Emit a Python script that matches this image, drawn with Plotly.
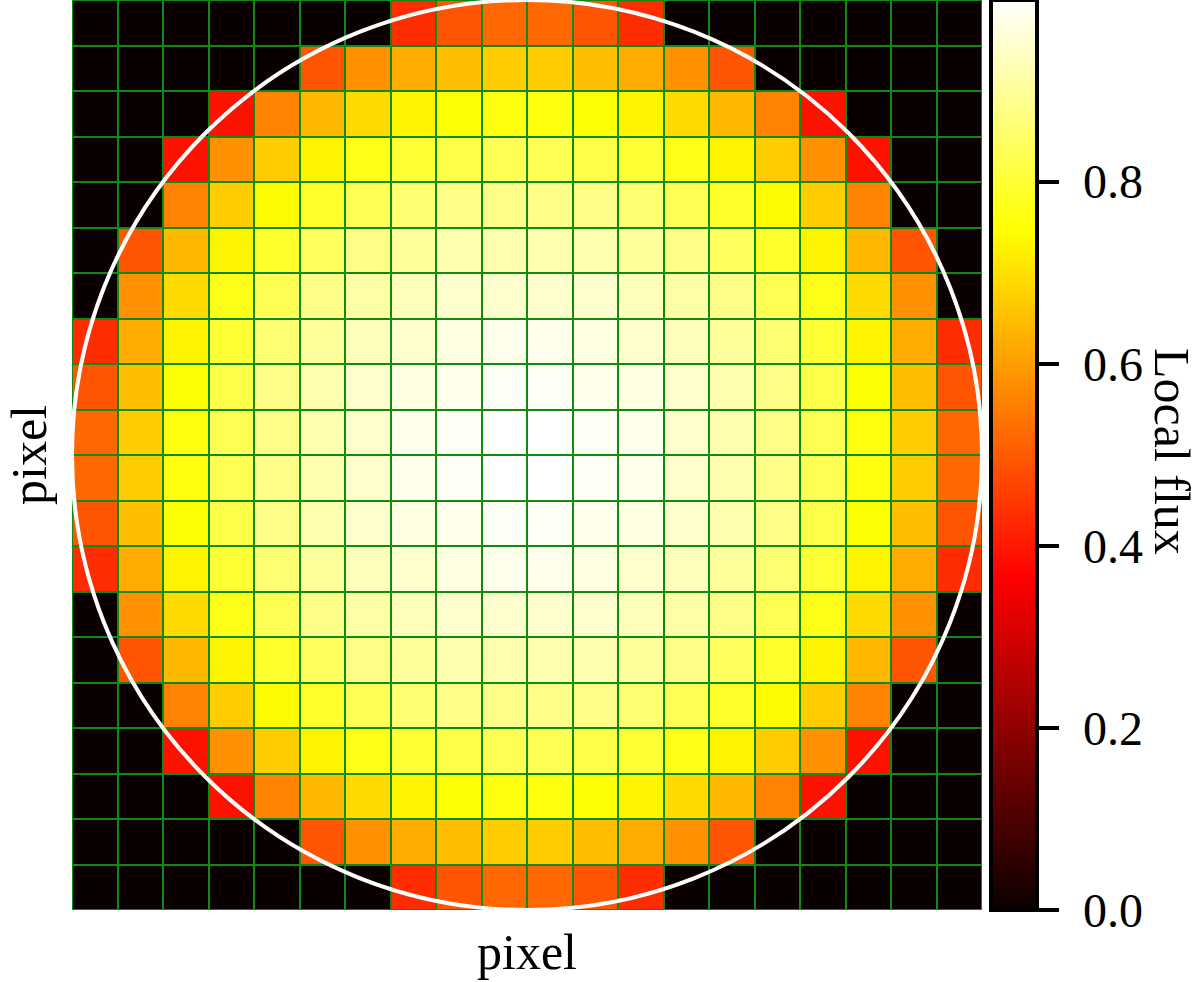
import plotly.graph_objects as go

# Local flux per pixel (row 0 = top of image)
flux = [
    [0, 0, 0, 0, 0, 0, 0, 0.43, 0.49, 0.52, 0.52, 0.49, 0.43, 0, 0, 0, 0, 0, 0, 0],
    [0, 0, 0, 0, 0, 0.49, 0.58, 0.62, 0.65, 0.67, 0.67, 0.65, 0.62, 0.58, 0.49, 0, 0, 0, 0, 0],
    [0, 0, 0, 0.39, 0.56, 0.64, 0.69, 0.73, 0.75, 0.76, 0.76, 0.75, 0.73, 0.69, 0.64, 0.56, 0.39, 0, 0, 0],
    [0, 0, 0.39, 0.58, 0.67, 0.73, 0.77, 0.80, 0.82, 0.83, 0.83, 0.82, 0.80, 0.77, 0.73, 0.67, 0.58, 0.39, 0, 0],
    [0, 0, 0.56, 0.67, 0.74, 0.79, 0.83, 0.86, 0.88, 0.88, 0.88, 0.88, 0.86, 0.83, 0.79, 0.74, 0.67, 0.56, 0, 0],
    [0, 0.49, 0.64, 0.73, 0.79, 0.84, 0.88, 0.90, 0.92, 0.92, 0.92, 0.92, 0.90, 0.88, 0.84, 0.79, 0.73, 0.64, 0.49, 0],
    [0, 0.58, 0.69, 0.77, 0.83, 0.88, 0.91, 0.93, 0.95, 0.95, 0.95, 0.95, 0.93, 0.91, 0.88, 0.83, 0.77, 0.69, 0.58, 0],
    [0.43, 0.62, 0.73, 0.80, 0.86, 0.90, 0.93, 0.95, 0.97, 0.98, 0.98, 0.97, 0.95, 0.93, 0.90, 0.86, 0.80, 0.73, 0.62, 0.43],
    [0.49, 0.65, 0.75, 0.82, 0.88, 0.92, 0.95, 0.97, 0.98, 0.99, 0.99, 0.98, 0.97, 0.95, 0.92, 0.88, 0.82, 0.75, 0.65, 0.49],
    [0.52, 0.67, 0.76, 0.83, 0.88, 0.92, 0.95, 0.98, 0.99, 1.00, 1.00, 0.99, 0.98, 0.95, 0.92, 0.88, 0.83, 0.76, 0.67, 0.52],
    [0.52, 0.67, 0.76, 0.83, 0.88, 0.92, 0.95, 0.98, 0.99, 1.00, 1.00, 0.99, 0.98, 0.95, 0.92, 0.88, 0.83, 0.76, 0.67, 0.52],
    [0.49, 0.65, 0.75, 0.82, 0.88, 0.92, 0.95, 0.97, 0.98, 0.99, 0.99, 0.98, 0.97, 0.95, 0.92, 0.88, 0.82, 0.75, 0.65, 0.49],
    [0.43, 0.62, 0.73, 0.80, 0.86, 0.90, 0.93, 0.95, 0.97, 0.98, 0.98, 0.97, 0.95, 0.93, 0.90, 0.86, 0.80, 0.73, 0.62, 0.43],
    [0, 0.58, 0.69, 0.77, 0.83, 0.88, 0.91, 0.93, 0.95, 0.95, 0.95, 0.95, 0.93, 0.91, 0.88, 0.83, 0.77, 0.69, 0.58, 0],
    [0, 0.49, 0.64, 0.73, 0.79, 0.84, 0.88, 0.90, 0.92, 0.92, 0.92, 0.92, 0.90, 0.88, 0.84, 0.79, 0.73, 0.64, 0.49, 0],
    [0, 0, 0.56, 0.67, 0.74, 0.79, 0.83, 0.86, 0.88, 0.88, 0.88, 0.88, 0.86, 0.83, 0.79, 0.74, 0.67, 0.56, 0, 0],
    [0, 0, 0.39, 0.58, 0.67, 0.73, 0.77, 0.80, 0.82, 0.83, 0.83, 0.82, 0.80, 0.77, 0.73, 0.67, 0.58, 0.39, 0, 0],
    [0, 0, 0, 0.39, 0.56, 0.64, 0.69, 0.73, 0.75, 0.76, 0.76, 0.75, 0.73, 0.69, 0.64, 0.56, 0.39, 0, 0, 0],
    [0, 0, 0, 0, 0, 0.49, 0.58, 0.62, 0.65, 0.67, 0.67, 0.65, 0.62, 0.58, 0.49, 0, 0, 0, 0, 0],
    [0, 0, 0, 0, 0, 0, 0, 0.43, 0.49, 0.52, 0.52, 0.49, 0.43, 0, 0, 0, 0, 0, 0, 0],
]
pixel_cols = list(range(20))
pixel_rows = list(range(20))

cbar_tickvals = [0.0, 0.2, 0.4, 0.6, 0.8]
cbar_ticktext = ["0.0", "0.2", "0.4", "0.6", "0.8"]
ZMIN, ZMAX = 0.0, 1.0

star_center_x = 9.5
star_center_y = 9.5
star_radius = 10.0

hot = [
    [0.0, "rgb(11,0,0)"],
    [0.365, "rgb(255,0,0)"],
    [0.746, "rgb(255,255,0)"],
    [1.0, "rgb(255,255,255)"],
]

FONT = "Liberation Serif"
FS_TICK = 48
FS_LABEL = 50

fig = go.Figure()
fig.add_trace(go.Heatmap(
    z=flux, x=pixel_cols, y=pixel_rows,
    colorscale=hot, zmin=ZMIN, zmax=ZMAX,
    xgap=2, ygap=2,
    colorbar=dict(
        xref="paper", x=(991 - 72) / 910, xanchor="left", xpad=0,
        yref="paper", y=0.5, yanchor="middle", ypad=0,
        len=1.0, lenmode="fraction",
        thickness=46, thicknessmode="pixels",
        outlinewidth=4, outlinecolor="black",
        ticks="outside", ticklen=20, tickwidth=4, tickcolor="black",
        tickvals=cbar_tickvals, ticktext=cbar_ticktext,
        showticklabels=False,
    ),
    hoverinfo="skip",
))

# colorbar tick labels (placed as text next to the ticks)
for v, t in zip(cbar_tickvals, cbar_ticktext):
    fig.add_annotation(
        text=t, showarrow=False,
        xref="paper", yref="paper",
        x=(1081 - 72) / 910, y=(v - ZMIN) / (ZMAX - ZMIN),
        xanchor="left", yanchor="middle",
        font=dict(family=FONT, size=FS_TICK, color="black"),
    )

fig.add_shape(
    type="circle", xref="x", yref="y",
    x0=star_center_x - star_radius, x1=star_center_x + star_radius,
    y0=star_center_y - star_radius, y1=star_center_y + star_radius,
    line=dict(color="white", width=4),
)

fig.add_annotation(
    text="Local flux", textangle=90, showarrow=False,
    xref="paper", yref="paper", x=(1172 - 72) / 910, y=(910 - 451) / 910,
    xanchor="center", yanchor="middle", borderpad=0,
    font=dict(family=FONT, size=FS_LABEL, color="black"),
)
fig.add_annotation(
    text="pixel", showarrow=False,
    xref="paper", yref="paper", x=(527 - 72) / 910, y=(910 - 952) / 910,
    xanchor="center", yanchor="middle", borderpad=0,
    font=dict(family=FONT, size=FS_LABEL, color="black"),
)
fig.add_annotation(
    text="pixel", textangle=-90, showarrow=False,
    xref="paper", yref="paper", x=(29 - 72) / 910, y=(910 - 455) / 910,
    xanchor="center", yanchor="middle", borderpad=0,
    font=dict(family=FONT, size=FS_LABEL, color="black"),
)

fig.update_xaxes(range=[-0.5, 19.5], showticklabels=False, ticks="", showgrid=False,
                 zeroline=False, showline=False)
fig.update_yaxes(range=[19.5, -0.5], showticklabels=False, ticks="", showgrid=False,
                 zeroline=False, showline=False)

fig.update_layout(
    width=1200, height=982,
    margin=dict(l=72, r=218, t=0, b=72, pad=0),
    plot_bgcolor="#118a11",
    paper_bgcolor="white",
    showlegend=False,
)

fig.write_html("out.html")
